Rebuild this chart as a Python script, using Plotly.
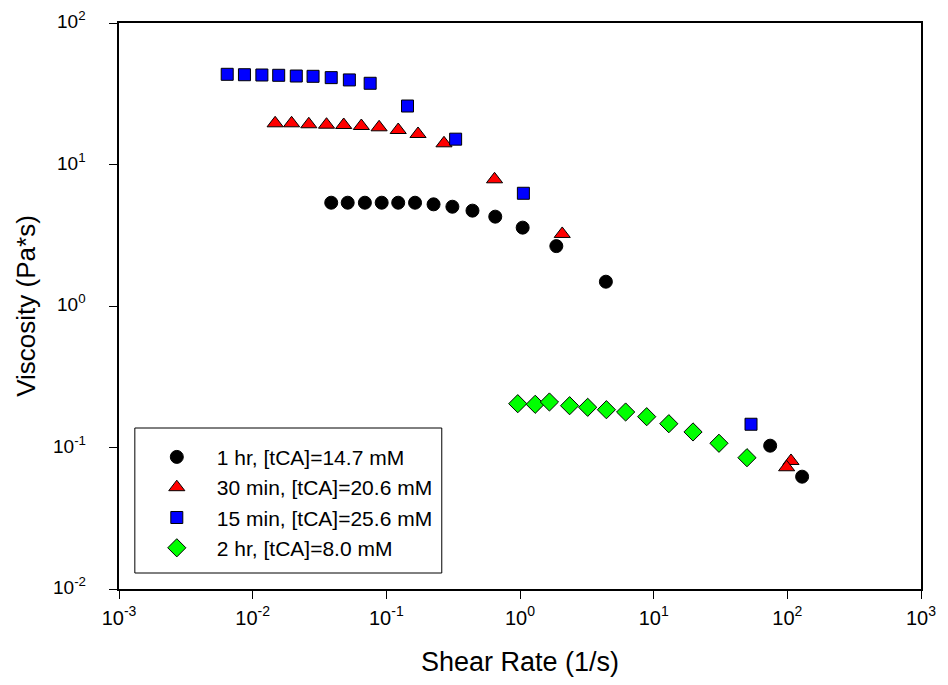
import math
import plotly.graph_objects as go

# ---- data ----
hr1_x = [0.0387, 0.0514, 0.0691, 0.0923, 0.1227, 0.164, 0.2256, 0.312, 0.441, 0.653, 1.047, 1.87, 4.39, 74.4, 129]
hr1_y = [5.37, 5.37, 5.37, 5.37, 5.37, 5.37, 5.23, 5.03, 4.72, 4.28, 3.58, 2.65, 1.485, 0.103, 0.0622]

min30_x = [0.01473, 0.01955, 0.0263, 0.0357, 0.0480, 0.0650, 0.0883, 0.1227, 0.1726, 0.270, 0.645, 2.07, 106.5, 98.8]
min30_y = [19.55, 19.55, 19.24, 19.11, 19.02, 18.71, 18.32, 17.53, 16.43, 14.12, 7.86, 3.23, 0.0803, 0.0725]

min15_x = [0.00645, 0.00868, 0.01172, 0.01566, 0.0212, 0.0283, 0.0387, 0.0529, 0.0757, 0.144, 0.330, 1.06, 53.5]
min15_y = [43.4, 43.1, 42.9, 42.7, 42.2, 42.0, 41.1, 39.6, 37.5, 25.9, 15.1, 6.26, 0.146]

hr2_x = [0.962, 1.30, 1.66, 2.35, 3.21, 4.43, 6.17, 8.87, 12.98, 19.7, 30.8, 49.9]
hr2_y = [0.204, 0.202, 0.2097, 0.1974, 0.1923, 0.185, 0.1782, 0.1651, 0.1473, 0.1288, 0.1071, 0.0847]

series_names = ["1 hr, [tCA]=14.7 mM", "30 min, [tCA]=20.6 mM",
                "15 min, [tCA]=25.6 mM", "2 hr, [tCA]=8.0 mM"]

x_tickvals = [1e-3, 1e-2, 1e-1, 1e0, 1e1, 1e2, 1e3]
x_ticktext = ["10<sup>-3</sup>", "10<sup>-2</sup>", "10<sup>-1</sup>", "10<sup>0</sup>",
              "10<sup>1</sup>", "10<sup>2</sup>", "10<sup>3</sup>"]
y_tickvals = [1e-2, 1e-1, 1e0, 1e1, 1e2]
y_ticktext = ["10<sup>-2</sup>", "10<sup>-1</sup>", "10<sup>0</sup>", "10<sup>1</sup>", "10<sup>2</sup>"]

FONT = "Liberation Sans, Arial, sans-serif"

fig = go.Figure()
styles = [
    (hr1_x, hr1_y, "circle", "#000000", 13),
    (min30_x, min30_y, "triangle-up", "#FF0000", 14),
    (min15_x, min15_y, "square", "#0000FF", 12),
    (hr2_x, hr2_y, "diamond", "#00FF00", 14),
]
for (xs, ys, sym, col, sz), name in zip(styles, series_names):
    fig.add_trace(go.Scatter(
        x=xs, y=ys, mode="markers", name=name,
        marker=dict(symbol=sym, color=col, size=sz,
                    line=dict(color="#000000", width=1)),
    ))

axis_common = dict(
    type="log", showgrid=False, zeroline=False,
    showline=True, linecolor="#000000", linewidth=1.5, mirror=True,
    ticks="outside", ticklen=8, tickwidth=1, tickcolor="#000000",
    tickfont=dict(family=FONT, size=20, color="#000000"),
    ticklabelposition="outside",
    ticklabeloverflow="allow",
)

# y tick labels placed on the y scale, set a little further from the axis
y_label_annotations = [
    dict(text=t, xref="paper", x=0, xanchor="right", xshift=-31,
         yref="y", y=math.log10(v), yanchor="middle", yshift=3,
         showarrow=False, font=dict(family=FONT, size=19, color="#000000"))
    for v, t in zip(y_tickvals, y_ticktext)
]

fig.update_layout(
    width=948, height=685,
    margin=dict(l=119, r=19, t=23, b=96),
    paper_bgcolor="white", plot_bgcolor="white",
    font=dict(family=FONT, color="#000000"),
    showlegend=True,
    legend=dict(
        x=0.0222, y=0.269, xanchor="left", yanchor="top",
        bgcolor="rgba(0,0,0,0)", borderwidth=0,
        font=dict(family=FONT, size=21, color="#000000"),
        itemwidth=70,
    ),
    xaxis=dict(
        **axis_common, range=[-3, 3],
        tickvals=x_tickvals, ticktext=x_ticktext,
        ticklabelstandoff=2,
        title=dict(text="Shear Rate (1/s)", font=dict(family=FONT, size=27), standoff=24),
    ),
    yaxis=dict(
        **axis_common, range=[-2, 2],
        tickvals=y_tickvals, showticklabels=False,
        title=dict(text="Viscosity (Pa*s)", font=dict(family=FONT, size=26), standoff=66),
    ),
    annotations=y_label_annotations,
    shapes=[dict(type="rect", xref="paper", yref="paper",
                 x0=(135 - 119) / 810, x1=(445 - 119) / 810,
                 y0=(589 - 573) / 566, y1=(589 - 428) / 566,
                 line=dict(color="#000000", width=1), fillcolor="rgba(0,0,0,0)")],
)

fig.write_html("out.html",
               config={"displayModeBar": False},
               post_script="document.body.style.margin='0';document.body.style.overflow='hidden';")
